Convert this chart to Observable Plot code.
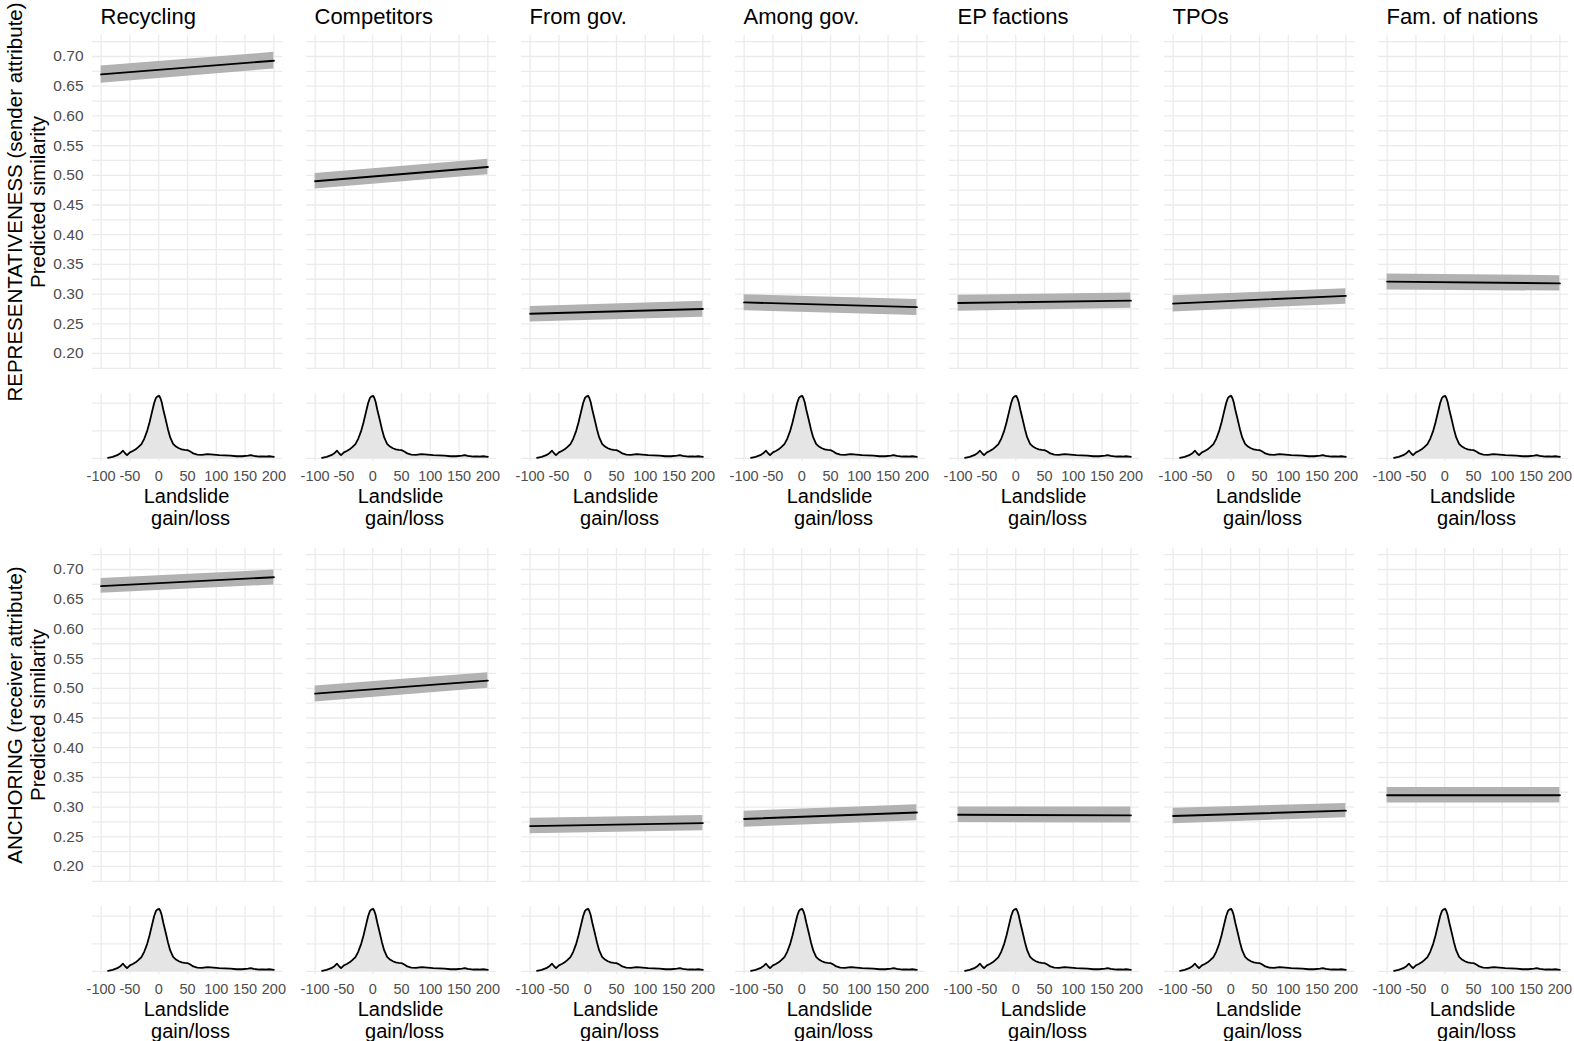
<!DOCTYPE html>
<html><head><meta charset="utf-8">
<script src="https://cdn.jsdelivr.net/npm/d3@7"></script>
<script src="https://cdn.jsdelivr.net/npm/@observablehq/plot@0.6"></script>
<style>
body{margin:0;background:#fff}
#chart{position:relative;width:1574px;height:1041px;overflow:hidden;background:#fff}
#chart svg{position:absolute;overflow:visible}
</style>
</head><body><div id="chart"></div>
<script>
// ---- data ----
const facets = ["Recycling", "Competitors", "From gov.", "Among gov.", "EP factions", "TPOs", "Fam. of nations"];
const rowTitles = ["REPRESENTATIVENESS (sender attribute)", "ANCHORING (receiver attribute)"];
const yAxisTitle = "Predicted similarity";
const xAxisTitle1 = "Landslide";
const xAxisTitle2 = "gain/loss";
const xEnds = [-100, 200];
const xTicks = [-100, -50, 0, 50, 100, 150, 200];
const yTicks = [0.20, 0.25, 0.30, 0.35, 0.40, 0.45, 0.50, 0.55, 0.60, 0.65, 0.70];
const yGrid = [0.175, 0.20, 0.225, 0.25, 0.275, 0.30, 0.325, 0.35, 0.375, 0.40, 0.425, 0.45, 0.475, 0.50, 0.525, 0.55, 0.575, 0.60, 0.625, 0.65, 0.675, 0.70, 0.725];
const densGrid = [0, 0.01, 0.02];

// Representativeness row: fitted value and CI at x = -100 and x = 200
const repFitStart  = [0.670, 0.490, 0.267, 0.286, 0.285, 0.284, 0.321];
const repFitEnd    = [0.693, 0.514, 0.275, 0.278, 0.289, 0.297, 0.318];
const repLowStart  = [0.655, 0.477, 0.253, 0.272, 0.271, 0.270, 0.307];
const repHighStart = [0.684, 0.503, 0.279, 0.299, 0.298, 0.297, 0.334];
const repLowEnd    = [0.679, 0.501, 0.261, 0.264, 0.276, 0.283, 0.305];
const repHighEnd   = [0.707, 0.527, 0.288, 0.291, 0.302, 0.309, 0.331];

// Anchoring row
const ancFitStart  = [0.672, 0.491, 0.268, 0.280, 0.287, 0.285, 0.320];
const ancFitEnd    = [0.687, 0.513, 0.273, 0.291, 0.286, 0.294, 0.320];
const ancLowStart  = [0.660, 0.477, 0.255, 0.266, 0.274, 0.272, 0.307];
const ancHighStart = [0.685, 0.504, 0.281, 0.293, 0.300, 0.298, 0.333];
const ancLowEnd    = [0.674, 0.500, 0.260, 0.277, 0.273, 0.282, 0.307];
const ancHighEnd   = [0.699, 0.526, 0.286, 0.304, 0.300, 0.306, 0.333];

// Density of landslide gain/loss (same in every panel)
const densX = [-88, -80, -72, -66, -62, -58, -55, -50, -45, -40, -35, -30, -25, -20, -16, -12, -8, -5, -2, 1, 3, 5, 8, 12, 16, 20, 25, 30, 35, 40, 45, 50, 55, 60, 67, 75, 85, 95, 105, 115, 125, 135, 145, 155, 160, 165, 175, 185, 192, 200];
const densY = [0.0002, 0.0006, 0.0012, 0.0020, 0.0028, 0.0018, 0.0012, 0.0022, 0.0027, 0.0033, 0.0042, 0.0052, 0.0072, 0.0100, 0.0130, 0.0165, 0.0200, 0.0218, 0.0225, 0.0226, 0.0218, 0.0205, 0.0176, 0.0142, 0.0106, 0.0076, 0.0053, 0.0043, 0.0037, 0.0033, 0.0031, 0.0030, 0.0025, 0.0018, 0.0014, 0.0013, 0.0016, 0.0014, 0.0012, 0.0011, 0.0010, 0.0008, 0.0008, 0.0010, 0.0012, 0.0009, 0.0007, 0.0007, 0.0008, 0.0006];

// ---- build ----
const rowsData = [
  {fs: repFitStart, fe: repFitEnd, ls: repLowStart, hs: repHighStart, le: repLowEnd, he: repHighEnd},
  {fs: ancFitStart, fe: ancFitEnd, ls: ancLowStart, hs: ancHighStart, le: ancLowEnd, he: ancHighEnd}
];
const dens = densX.map((x, i) => ({x, y: densY[i]}));

const FONT = '"Liberation Sans", Arial, Helvetica, sans-serif';
const GRID = "#ebebeb";
const chart = document.getElementById("chart");
const panelW = 190, colStep = 214.33, left0 = 92;
const mainTop = 35, mainH = 333, rowStep = 513;
const densTop = 393, densH = 68;

function place(svg, left, top) {
  svg.style.position = "absolute";
  svg.style.left = left + "px";
  svg.style.top = top + "px";
  svg.style.overflow = "visible";
  svg.style.background = "none";
  svg.style.maxWidth = "none";
  chart.appendChild(svg);
}

for (let r = 0; r < 2; r++) {
  const R = rowsData[r];
  for (let c = 0; c < facets.length; c++) {
    const fit = xEnds.map((x, i) => ({x, y: i === 0 ? R.fs[c] : R.fe[c]}));
    const band = xEnds.map((x, i) => ({x, lo: i === 0 ? R.ls[c] : R.le[c], hi: i === 0 ? R.hs[c] : R.he[c]}));
    const ml = c === 0 ? left0 : 0;
    const marks = [
      Plot.ruleX(xTicks, {stroke: GRID, strokeWidth: 1.3}),
      Plot.ruleY(yGrid, {stroke: GRID, strokeWidth: 1.3}),
      Plot.areaY(band, {x: "x", y1: "lo", y2: "hi", fill: "#b2b2b2"}),
      Plot.lineY(fit, {x: "x", y: "y", stroke: "black", strokeWidth: 1.9})
    ];
    if (r === 0) {
      marks.push(Plot.text([facets[c]], {frameAnchor: "top-left", textAnchor: "start", lineAnchor: "bottom", dx: 8, dy: -12, fontSize: 22, fill: "black"}));
    }
    if (c === 0) {
      marks.push(Plot.text([rowTitles[r] + "\n" + yAxisTitle], {frameAnchor: "left", textAnchor: "middle", lineAnchor: "middle", rotate: -90, dx: -66.5, fontSize: 20.5, lineHeight: 1.12, fill: "black"}));
    }
    const main = Plot.plot({
      width: ml + panelW, height: mainTop + mainH,
      marginLeft: ml, marginRight: 0, marginTop: mainTop, marginBottom: 0,
      x: {domain: [-115, 215], axis: null},
      y: {domain: [0.1747, 0.7354], axis: c === 0 ? "left" : null, ticks: yTicks, tickFormat: d3.format(".2f"), tickSize: 0, tickPadding: 9, label: null},
      style: {fontFamily: FONT, fontSize: "15.5px", color: "#4d4d4d", background: "none", overflow: "visible"},
      marks
    });
    place(main, c === 0 ? 0 : left0 + c * colStep, r * rowStep);

    const dplot = Plot.plot({
      width: panelW, height: densH + 70,
      marginLeft: 0, marginRight: 0, marginTop: 0, marginBottom: 70,
      x: {domain: [-115, 215], ticks: xTicks, tickFormat: d => String(d), tickSize: 0, tickPadding: 9, label: null},
      y: {domain: [-0.0011, 0.0235], axis: null},
      style: {fontFamily: FONT, fontSize: "14.5px", color: "#4d4d4d", background: "none", overflow: "visible"},
      marks: [
        Plot.ruleX(xTicks, {stroke: GRID, strokeWidth: 1.3}),
        Plot.ruleY(densGrid, {stroke: GRID, strokeWidth: 1.3}),
        Plot.areaY(dens, {x: "x", y: "y", fill: "#e5e5e5"}),
        Plot.lineY(dens, {x: "x", y: "y", stroke: "black", strokeWidth: 1.8}),
        Plot.text([xAxisTitle1], {frameAnchor: "bottom", lineAnchor: "top", dx: -1, dy: 27, fontSize: 20, fill: "black"}),
        Plot.text([xAxisTitle2], {frameAnchor: "bottom", lineAnchor: "top", dx: 3, dy: 49, fontSize: 20, fill: "black"})
      ]
    });
    place(dplot, left0 + c * colStep, densTop + r * rowStep);
  }
}
</script></body></html>
